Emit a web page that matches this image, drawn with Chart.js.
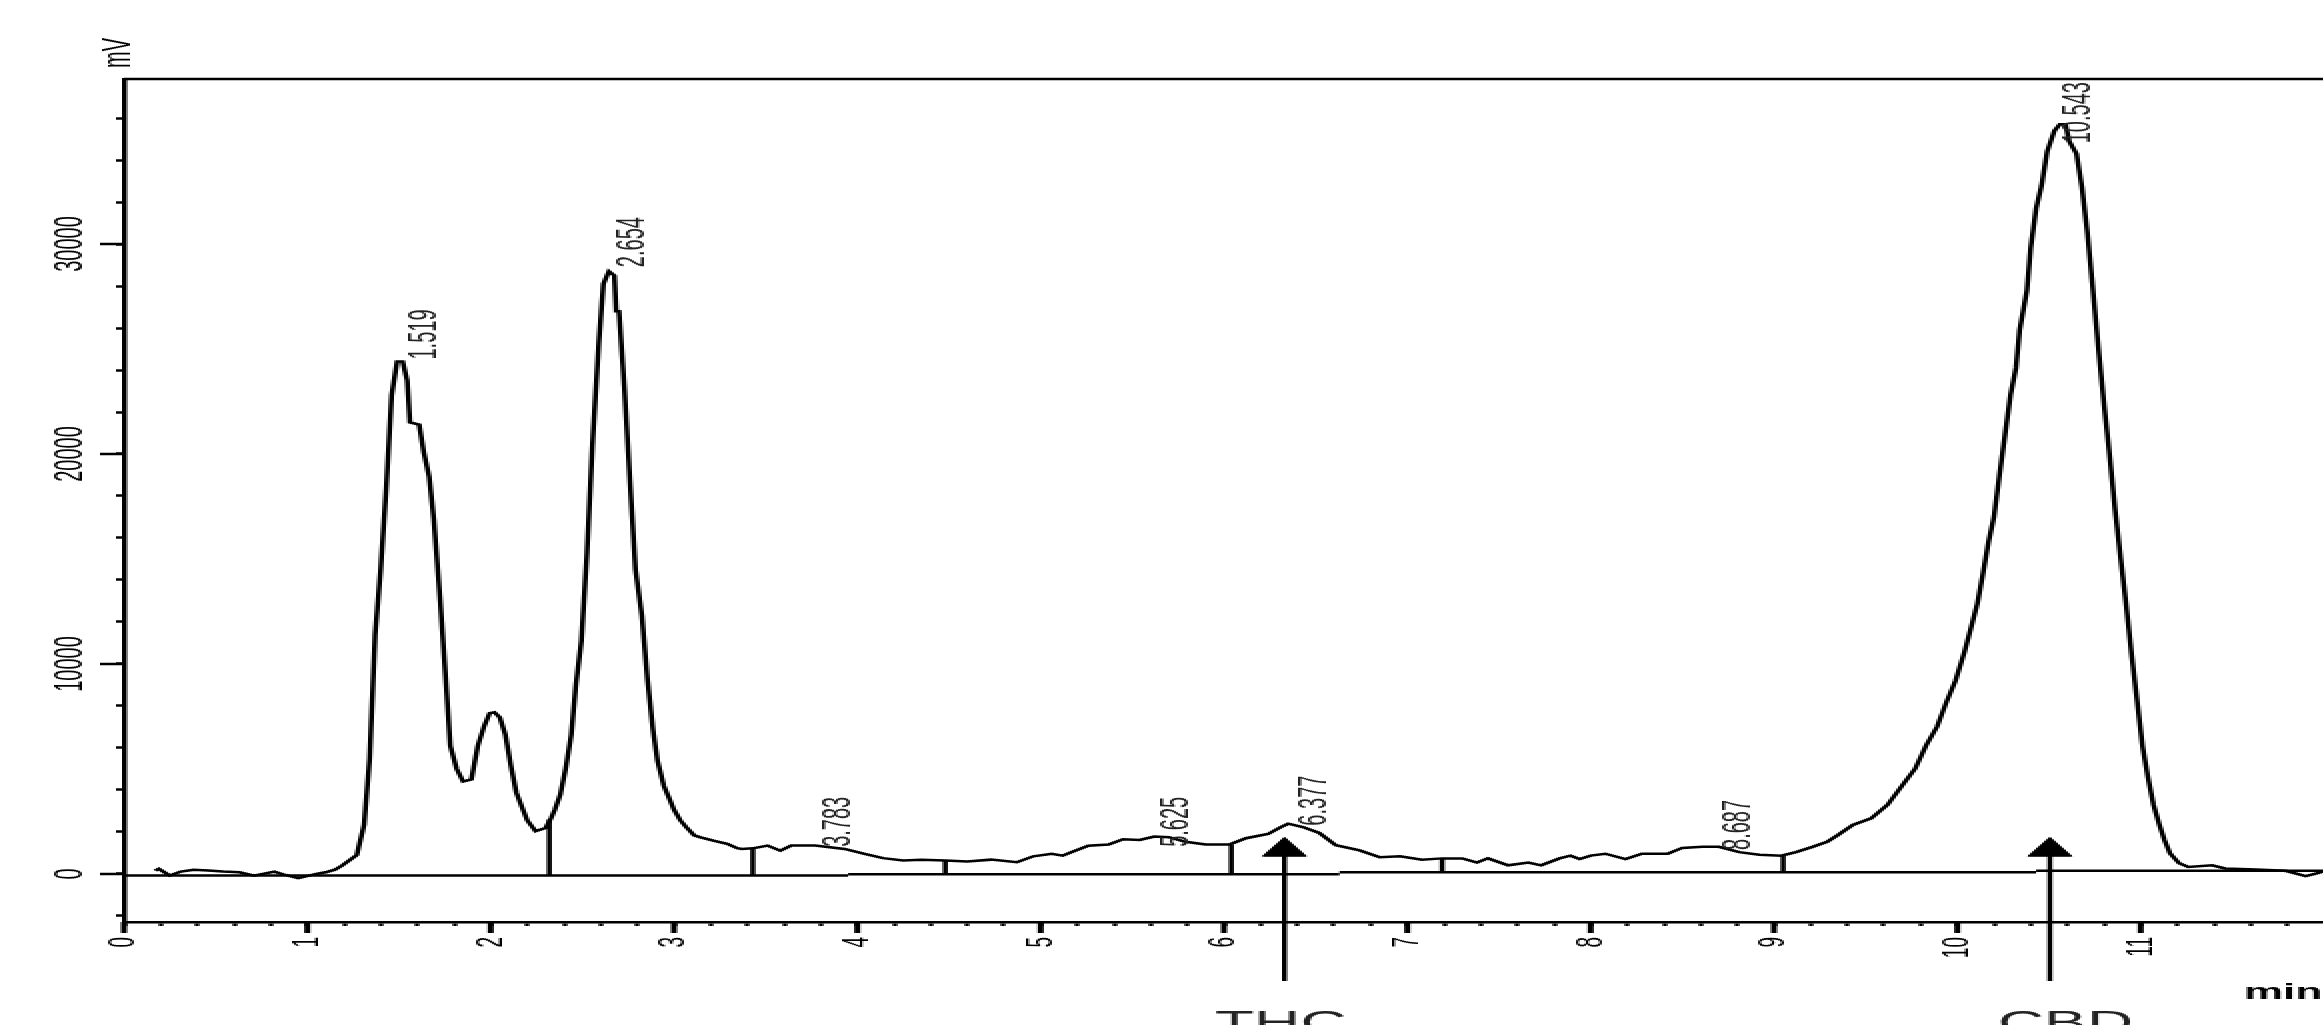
<!DOCTYPE html>
<html>
<head>
<meta charset="utf-8">
<title>Chromatogram</title>
<script src="https://cdn.jsdelivr.net/npm/chart.js@4.4.1/dist/chart.umd.min.js"></script>
<style>
  html, body { margin: 0; padding: 0; background: #fff; overflow: hidden; }
  #chromChart { display: block; image-rendering: pixelated; }
</style>
</head>
<body>
<!-- the reference is a horizontally stretched print-out, so the canvas is drawn at half width and shown 2x wide -->
<canvas id="chromChart" width="1162" height="1025" style="width:2324px;height:1025px"></canvas>
<script>
// detector signal (mV) against retention time (min)
const traceTimes = [
  0.17, 0.19, 0.25, 0.31, 0.38, 0.46, 0.54, 0.63, 0.71, 0.82, 0.88, 0.95, 1.05, 1.10, 1.15, 1.19, 1.23, 1.27,
  1.31, 1.34, 1.37, 1.40, 1.43, 1.46, 1.49, 1.52, 1.545, 1.56, 1.61, 1.635, 1.665, 1.69, 1.725, 1.755, 1.78,
  1.815, 1.85, 1.895, 1.93, 1.965, 1.995, 2.02, 2.05, 2.08, 2.11, 2.14, 2.17, 2.20, 2.245, 2.30, 2.33, 2.35,
  2.38, 2.41, 2.44, 2.465, 2.495, 2.525, 2.555, 2.59, 2.615, 2.645, 2.675, 2.685, 2.70, 2.73, 2.76, 2.79, 2.825,
  2.855, 2.885, 2.91, 2.945, 2.975, 3.00, 3.035, 3.065, 3.11, 3.145, 3.22, 3.29, 3.345, 3.37, 3.43, 3.51, 3.58,
  3.64, 3.77, 3.85, 3.93, 4.04, 4.14, 4.25, 4.35, 4.48, 4.60, 4.73, 4.87, 4.96, 5.06, 5.12, 5.17, 5.26, 5.37,
  5.45, 5.54, 5.62, 5.70, 5.79, 5.90, 6.03, 6.12, 6.24, 6.31, 6.35, 6.43, 6.52, 6.61, 6.74, 6.85, 6.96, 7.08,
  7.19, 7.30, 7.38, 7.44, 7.55, 7.66, 7.73, 7.83, 7.89, 7.94, 8.00, 8.08, 8.19, 8.28, 8.42, 8.50, 8.61, 8.70,
  8.81, 8.92, 9.04, 9.12, 9.21, 9.29, 9.35, 9.43, 9.53, 9.62, 9.72, 9.77, 9.83, 9.89, 9.94, 9.99, 10.04, 10.08,
  10.11, 10.14, 10.17, 10.20, 10.23, 10.26, 10.29, 10.32, 10.34, 10.38, 10.40, 10.43, 10.46, 10.49, 10.53,
  10.56, 10.59, 10.61, 10.65, 10.68, 10.71, 10.74, 10.77, 10.80, 10.83, 10.86, 10.89, 10.92, 10.95, 10.98,
  11.01, 11.04, 11.07, 11.10, 11.13, 11.16, 11.21, 11.26, 11.39, 11.46, 11.63, 11.79, 11.90, 11.96, 12.0
];
const traceValues = [
  160, 240, -80, 110, 200, 160, 110, 80, -80, 110, -50, -200, 0, 80, 200, 400, 650, 900,
  2350, 5500, 11400, 14500, 18300, 22800, 24400, 24400, 23500, 21500, 21400, 20100, 18900, 16900, 13000, 9300, 6100,
  5000, 4400, 4500, 6100, 7050, 7660, 7700, 7450, 6640, 5170, 3880, 3200, 2550, 2040, 2190, 2660, 3060,
  3780, 5050, 6640, 9000, 11100, 15200, 20400, 25300, 28100, 28700, 28500, 26800, 26800, 23100, 18700, 14500, 12300,
  9300, 6900, 5400, 4190, 3580, 3060, 2550, 2250, 1840, 1740, 1570, 1430, 1230, 1190, 1220, 1350, 1110,
  1350, 1350, 1270, 1190, 950, 750, 640, 670, 640, 590, 680, 560, 840, 960, 870, 1040, 1340, 1400,
  1650, 1620, 1780, 1750, 1530, 1400, 1400, 1700, 1900, 2230, 2390, 2230, 1950, 1370, 1120, 790, 840, 680,
  740, 740, 540, 740, 410, 540, 410, 740, 870, 710, 870, 960, 710, 960, 960, 1240, 1290, 1290,
  1040, 910, 870, 1040, 1290, 1530, 1860, 2330, 2650, 3300, 4450, 5010, 6120, 7020, 8170, 9200, 10600, 11900,
  12900, 14300, 15800, 17000, 19000, 20900, 22800, 24100, 25900, 27800, 29800, 31700, 32800, 34400, 35400,
  35700, 35700, 34900, 34300, 32700, 30500, 27800, 25000, 22400, 20000, 17400, 15100, 12900, 10500, 8300,
  6100, 4600, 3300, 2400, 1620, 980, 510, 330, 410, 260, 210, 150, -100, 30, 130
];

// integration baseline segments
const baseStarts = [0, 3.95, 6.63, 10.43];
const baseEnds = [3.95, 6.63, 10.43, 12.0];
const baseLevels = [-80, -10, 80, 150];

// peak boundary drop lines
const dropTimes = [2.32, 3.43, 4.48, 6.04, 7.19, 9.05];
const dropBottoms = [-80, -80, -10, -10, 80, 80];
const dropTops = [2600, 1220, 640, 1400, 740, 870];

// retention time labels
const peakNames = ['1.519', '2.654', '3.783', '5.625', '6.377', '8.687', '10.543'];
const peakTimes = [1.519, 2.654, 3.783, 5.625, 6.377, 8.687, 10.543];
const peakLabelLevels = [24500, 28900, 1290, 1290, 2300, 1140, 34800];

// compound markers
const markerNames = ['THC', 'CBD'];
const markerTimes = [6.33, 10.505];
const markerLabelTimes = [6.31, 10.59];
const markerTail = -5100;
const markerHead = 1140;

// axes
const xMin = 0, xMax = 12.0, xMinorStep = 0.2;
const xMajorTicks = [0, 1, 2, 3, 4, 5, 6, 7, 8, 9, 10, 11];
const yMin = -2290, yMax = 37860, yMinorStep = 2000;
const yMajorTicks = [0, 10000, 20000, 30000];

class Chromatogram {
  constructor() {
    this.$canvas = document.querySelector('#chromChart');
    this.xTicks = [];
    for (let k = 0; k * xMinorStep < xMax - 0.1; k++) this.xTicks.push(Math.round(k * xMinorStep * 10) / 10);
    this.yTicks = [];
    for (let v = -2000; v < yMax; v += yMinorStep) this.yTicks.push(v);
    this.draw();
  }

  lineSet(points, extra) {
    return Object.assign({
      data: points,
      borderColor: '#000',
      borderWidth: 2.5,
      pointRadius: 0,
      tension: 0,
      fill: false
    }, extra || {});
  }

  buildDatasets() {
    const sets = [];
    sets.push(this.lineSet(traceTimes.map((t, i) => ({x: t, y: traceValues[i]}))));
    baseStarts.forEach((t, i) => {
      sets.push(this.lineSet([{x: t, y: baseLevels[i]}, {x: baseEnds[i], y: baseLevels[i]}]));
    });
    dropTimes.forEach((t, i) => {
      sets.push(this.lineSet([{x: t, y: dropBottoms[i]}, {x: t, y: dropTops[i]}]));
    });
    markerTimes.forEach((t) => {
      sets.push(this.lineSet([{x: t, y: markerTail}, {x: t, y: markerHead}], {
        clip: false,
        pointRadius: [0, 12.5],
        pointStyle: 'triangle',
        pointBackgroundColor: '#000',
        pointBorderColor: '#000',
        pointBorderWidth: 1
      }));
    });
    return sets;
  }

  draw() {
    const self = this;
    const decor = {
      id: 'decor',
      afterDraw(chart) {
        const {ctx, chartArea, scales: {x, y}} = chart;
        ctx.save();
        ctx.strokeStyle = '#000';

        // top frame line
        ctx.lineWidth = 2.5;
        ctx.beginPath();
        ctx.moveTo(chartArea.left, chartArea.top);
        ctx.lineTo(chartArea.right, chartArea.top);
        ctx.stroke();

        // long ticks at whole minutes and every 10000 mV
        ctx.lineWidth = 3;
        ctx.beginPath();
        xMajorTicks.forEach((v) => {
          const px = x.getPixelForValue(v);
          ctx.moveTo(px, chartArea.bottom);
          ctx.lineTo(px, chartArea.bottom + 11);
        });
        ctx.stroke();
        ctx.lineWidth = 2.5;
        ctx.beginPath();
        yMajorTicks.forEach((v) => {
          const py = y.getPixelForValue(v);
          ctx.moveTo(chartArea.left - 12, py);
          ctx.lineTo(chartArea.left, py);
        });
        ctx.stroke();

        // retention times, written upwards from each peak
        ctx.fillStyle = '#222';
        ctx.font = '20px "Liberation Sans", Arial, sans-serif';
        peakNames.forEach((name, i) => {
          ctx.save();
          ctx.translate(x.getPixelForValue(peakTimes[i]) + 1, y.getPixelForValue(peakLabelLevels[i]));
          ctx.rotate(-Math.PI / 2);
          ctx.textAlign = 'left';
          ctx.textBaseline = 'top';
          ctx.fillText(name, 0, 0);
          ctx.restore();
        });

        // unit labels
        ctx.fillStyle = '#000';
        ctx.save();
        ctx.translate(59, 53);
        ctx.rotate(-Math.PI / 2);
        ctx.textAlign = 'center';
        ctx.textBaseline = 'middle';
        ctx.fillText('mV', 0, 0);
        ctx.restore();

        ctx.font = 'bold 22px "Liberation Sans", Arial, sans-serif';
        ctx.textAlign = 'left';
        ctx.textBaseline = 'alphabetic';
        ctx.fillText('min', 1122, 999);

        // compound names under the arrows
        ctx.fillStyle = '#222';
        ctx.font = '32px "Liberation Sans", Arial, sans-serif';
        ctx.textAlign = 'center';
        markerNames.forEach((name, i) => {
          ctx.fillText(name, x.getPixelForValue(markerLabelTimes[i]), 1033);
        });
        ctx.restore();
      }
    };

    new Chart(this.$canvas, {
      type: 'line',
      data: {datasets: this.buildDatasets()},
      options: {
        responsive: false,
        animation: false,
        devicePixelRatio: 1,
        layout: {autoPadding: false, padding: {top: 79, left: 0, right: 0, bottom: 0}},
        plugins: {legend: {display: false}, tooltip: {enabled: false}},
        scales: {
          x: {
            type: 'linear',
            min: xMin,
            max: xMax,
            afterBuildTicks: (axis) => { axis.ticks = self.xTicks.map(v => ({value: v})); },
            afterFit: (axis) => { axis.height = 103; axis.paddingLeft = 0; axis.paddingRight = 0; },
            grid: {drawOnChartArea: false, tickLength: 4, tickColor: '#000', tickWidth: 2.3},
            border: {display: true, color: '#000', width: 2.5},
            ticks: {
              autoSkip: false,
              minRotation: 90,
              maxRotation: 90,
              padding: 11,
              color: '#000',
              font: {family: '"Liberation Sans", Arial, sans-serif', size: 19},
              callback: (value) => xMajorTicks.includes(Math.round(value * 10) / 10) ? String(Math.round(value)) : ''
            }
          },
          y: {
            type: 'linear',
            min: yMin,
            max: yMax,
            afterBuildTicks: (axis) => { axis.ticks = self.yTicks.map(v => ({value: v})); },
            afterFit: (axis) => { axis.width = 62; },
            grid: {drawOnChartArea: false, tickLength: 4, tickColor: '#000', tickWidth: 2.5},
            border: {display: true, color: '#000', width: 2.5},
            ticks: {
              autoSkip: false,
              minRotation: 90,
              maxRotation: 90,
              crossAlign: 'center',
              padding: -5,
              color: '#000',
              font: {family: '"Liberation Sans", Arial, sans-serif', size: 20},
              callback: (value) => yMajorTicks.includes(value) ? String(value) : ''
            }
          }
        }
      },
      plugins: [decor]
    });
  }
}

window.addEventListener('load', () => {
  new Chromatogram();
});
</script>
</body>
</html>
